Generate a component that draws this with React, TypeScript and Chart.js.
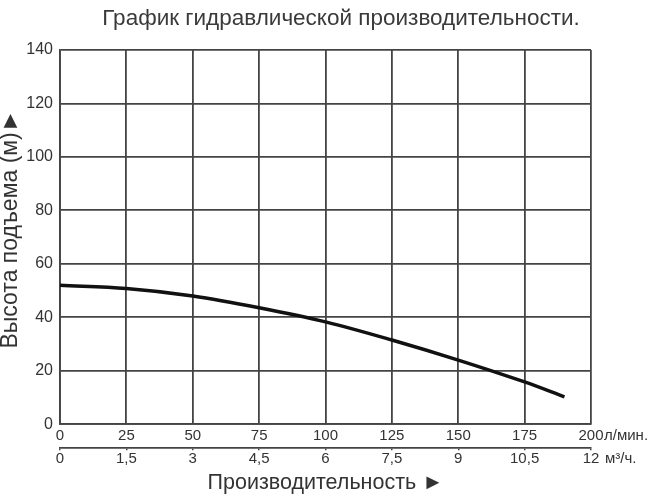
import React, { useEffect, useRef } from "react";
import { Chart, registerables } from "chart.js";

Chart.register(...registerables);

// Flow rate (л/мин.) and head (м)
const flowLpm = [0, 25, 50, 75, 100, 125, 150, 175, 190];
const headM = [52, 50.8, 48, 43.6, 38.3, 31.5, 24, 15.8, 10.2];

// Axis ranges / ticks
const flowLpmRange = [0, 200];
const flowLpmStep = 25;
const flowM3hRange = [0, 12];
const flowM3hStep = 1.5;
const headRange = [0, 140];
const headStep = 20;

const titleText = "График гидравлической производительности.";
const yTitleText = "Высота подъема (м)►";
const xTitleText = "Производительность ►";
const unitLpm = "л/мин.";
const unitM3h = "м³/ч.";

const FONT = "'Liberation Sans', Arial, sans-serif";
const TEXT = "#333333";
const GRID = "#444444";

const overlayPlugin = {
  id: "overlay",
  afterDraw(chart: any) {
    const ctx = chart.ctx;
    const x = chart.scales.x;
    const x2 = chart.scales.x2;
    ctx.save();
    // main title
    ctx.fillStyle = "#3a3a3a";
    ctx.font = `22.5px ${FONT}`;
    ctx.textAlign = "center";
    ctx.textBaseline = "middle";
    ctx.fillText(titleText, 341, 19);
    // y axis title (rotated)
    ctx.save();
    ctx.fillStyle = TEXT;
    ctx.font = `23px ${FONT}`;
    ctx.translate(11, 229);
    ctx.rotate(-Math.PI / 2);
    ctx.fillText(yTitleText, 0, 0);
    ctx.restore();
    // units
    ctx.fillStyle = TEXT;
    ctx.font = `15px ${FONT}`;
    ctx.textAlign = "left";
    const px1 = x.getPixelForValue(flowLpmRange[1]);
    ctx.fillText(unitLpm, px1 + 13, x.top + 3 + 9);
    const px2 = x2.getPixelForValue(flowM3hRange[1]);
    ctx.fillText(unitM3h, px2 + 14, x2.top + 2 + 9);
    ctx.restore();
  },
};

export default function App() {
  const ref = useRef<HTMLCanvasElement | null>(null);

  useEffect(() => {
    if (!ref.current) return;
    const chart = new Chart(ref.current, {
      type: "line",
      data: {
        datasets: [
          {
            data: flowLpm.map((x, i) => ({ x, y: headM[i] })),
            borderColor: "#111111",
            borderWidth: 3.5,
            pointRadius: 0,
            tension: 0.35,
            xAxisID: "x",
            yAxisID: "y",
          },
        ],
      },
      options: {
        responsive: false,
        animation: false,
        layout: { padding: { left: 0, right: 63, top: 50, bottom: 4 } },
        plugins: {
          legend: { display: false },
          tooltip: { enabled: false },
          title: { display: false },
        },
        scales: {
          x: {
            type: "linear",
            position: "bottom",
            weight: 0,
            min: flowLpmRange[0],
            max: flowLpmRange[1],
            grid: { color: GRID, lineWidth: 1.8, drawTicks: false },
            border: { color: GRID, width: 1.8 },
            ticks: {
              stepSize: flowLpmStep,
              padding: 3,
              color: TEXT,
              font: { family: FONT, size: 15 },
              maxRotation: 0,
            },
          },
          x2: {
            type: "linear",
            position: "bottom",
            weight: 1,
            display: true,
            min: flowM3hRange[0],
            max: flowM3hRange[1],
            grid: { drawOnChartArea: false, drawTicks: true, tickLength: 2, color: GRID, lineWidth: 1.5 },
            border: { display: true, color: GRID, width: 1.8 },
            ticks: {
              stepSize: flowM3hStep,
              padding: 0,
              color: TEXT,
              font: { family: FONT, size: 15 },
              maxRotation: 0,
              callback: (v: any) => String(v).replace(".", ","),
            },
            title: {
              display: true,
              text: xTitleText,
              color: TEXT,
              font: { family: FONT, size: 21.5 },
              padding: { top: 2, bottom: 0 },
            },
          },
          y: {
            type: "linear",
            min: headRange[0],
            max: headRange[1],
            afterFit: (scale: any) => {
              scale.width = 60;
            },
            grid: { color: GRID, lineWidth: 1.8, drawTicks: false },
            border: { color: GRID, width: 1.8 },
            ticks: {
              stepSize: headStep,
              padding: 7,
              color: TEXT,
              font: { family: FONT, size: 16 },
            },
          },
        },
      },
      plugins: [overlayPlugin],
    } as any);
    return () => chart.destroy();
  }, []);

  return (
    <div style={{ position: "fixed", left: 0, top: 0, width: 654, height: 500, background: "#fff" }}>
      <canvas ref={ref} width={654} height={500} />
    </div>
  );
}
